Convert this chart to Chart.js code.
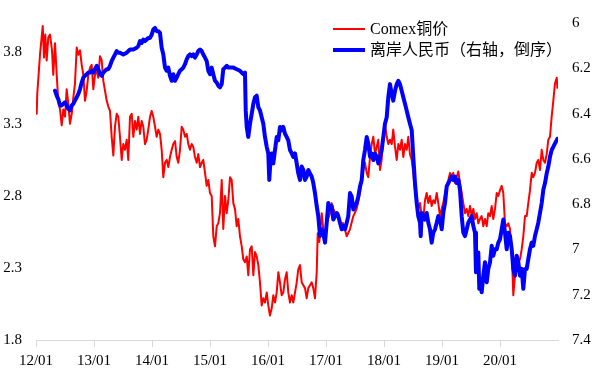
<!DOCTYPE html>
<html><head><meta charset="utf-8">
<script src="https://cdn.jsdelivr.net/npm/chart.js@4/dist/chart.umd.min.js"></script>
<style>html,body{margin:0;padding:0;background:#fff;} #c{display:block}</style>
</head><body>
<canvas id="c" width="601" height="371"></canvas>
<script>
const seriesNames = ['Comex铜价', '离岸人民币（右轴，倒序）'];
const xTickYears = [2012, 2013, 2014, 2015, 2016, 2017, 2018, 2019, 2020];
const xTickLabels = ['12/01', '13/01', '14/01', '15/01', '16/01', '17/01', '18/01', '19/01', '20/01'];
const leftTicks = [1.8, 2.3, 2.8, 3.3, 3.8];
const rightTicks = [6, 6.2, 6.4, 6.6, 6.8, 7, 7.2, 7.4];

// Comex copper (USD/lb), dates as decimal years
const copperT = [
2012.012,2012.022,2012.069,2012.116,2012.138,2012.160,2012.184,2012.212,2012.241,2012.276,
2012.298,2012.328,2012.357,2012.384,2012.414,2012.443,2012.471,2012.500,2012.529,2012.557,
2012.586,2012.616,2012.643,2012.672,2012.702,2012.729,2012.759,2012.788,2012.816,2012.845,
2012.874,2012.902,2012.931,2012.960,2012.988,2013.017,2013.047,2013.074,2013.103,2013.133,
2013.160,2013.190,2013.219,2013.247,2013.276,2013.305,2013.333,2013.362,2013.391,2013.419,
2013.448,2013.478,2013.505,2013.534,2013.564,2013.591,2013.621,2013.650,2013.678,2013.707,
2013.736,2013.764,2013.793,2013.822,2013.850,2013.879,2013.909,2013.936,2013.966,2013.995,
2014.022,2014.052,2014.081,2014.109,2014.138,2014.167,2014.195,2014.224,2014.253,2014.281,
2014.310,2014.340,2014.367,2014.397,2014.426,2014.453,2014.483,2014.512,2014.540,2014.569,
2014.598,2014.626,2014.655,2014.684,2014.712,2014.741,2014.771,2014.798,2014.828,2014.857,
2014.884,2014.914,2014.943,2014.971,2015.000,2015.029,2015.057,2015.086,2015.116,2015.143,
2015.172,2015.202,2015.229,2015.259,2015.288,2015.316,2015.345,2015.374,2015.402,2015.431,
2015.460,2015.488,2015.517,2015.547,2015.574,2015.603,2015.633,2015.660,2015.690,2015.719,
2015.747,2015.776,2015.805,2015.833,2015.862,2015.891,2015.919,2015.948,2015.978,2016.005,
2016.034,2016.064,2016.091,2016.121,2016.150,2016.178,2016.207,2016.236,2016.264,2016.293,
2016.322,2016.350,2016.379,2016.409,2016.436,2016.466,2016.495,2016.522,2016.552,2016.581,
2016.609,2016.638,2016.667,2016.695,2016.724,2016.753,2016.781,2016.810,2016.840,2016.857,
2016.884,2016.926,2016.953,2016.983,2017.012,2017.069,2017.098,2017.126,2017.184,2017.212,
2017.241,2017.298,2017.357,2017.414,2017.471,2017.529,2017.586,2017.643,2017.672,2017.702,
2017.729,2017.759,2017.788,2017.816,2017.845,2017.874,2017.902,2017.931,2017.960,2017.988,
2018.017,2018.047,2018.074,2018.103,2018.133,2018.160,2018.190,2018.219,2018.247,2018.276,
2018.305,2018.333,2018.362,2018.391,2018.419,2018.448,2018.478,2018.505,2018.534,2018.564,
2018.591,2018.621,2018.650,2018.678,2018.707,2018.736,2018.764,2018.793,2018.822,2018.850,
2018.879,2018.909,2018.936,2018.966,2018.995,2019.022,2019.052,2019.081,2019.109,2019.138,
2019.167,2019.195,2019.224,2019.253,2019.281,2019.310,2019.340,2019.367,2019.397,2019.426,
2019.453,2019.483,2019.512,2019.540,2019.569,2019.598,2019.626,2019.655,
2019.684,2019.712,2019.741,2019.771,2019.798,2019.828,2019.857,2019.884,2019.914,2019.943,
2019.971,2020.000,2020.029,2020.057,2020.086,2020.116,2020.143,2020.172,2020.202,2020.229,
2020.259,2020.288,2020.316,2020.345,2020.374,2020.402,2020.431,2020.460,2020.488,2020.517,
2020.547,2020.574,2020.603,2020.633,2020.660,2020.690,2020.719,2020.747,2020.776,2020.805,
2020.833,2020.862,2020.891,2020.919,2020.948,2020.978,2020.990
];
const copperV = [
3.37,3.51,3.78,3.98,3.76,3.92,3.74,3.90,3.92,3.81,
3.64,3.86,3.64,3.46,3.40,3.29,3.40,3.35,3.54,3.44,
3.30,3.37,3.48,3.58,3.83,3.78,3.81,3.71,3.64,3.46,
3.53,3.64,3.69,3.71,3.54,3.64,3.67,3.62,3.77,3.74,
3.60,3.53,3.46,3.42,3.39,3.21,3.08,3.28,3.37,3.35,
3.21,3.05,3.16,3.12,3.19,3.05,3.35,3.37,3.21,3.32,
3.26,3.35,3.23,3.32,3.28,3.16,3.19,3.26,3.35,3.39,
3.35,3.28,3.21,3.26,3.23,3.12,2.93,3.03,3.05,3.00,
3.07,3.12,3.16,3.18,3.07,3.03,3.12,3.28,3.26,3.21,
3.23,3.16,3.12,3.16,3.14,3.07,3.03,3.09,3.00,3.03,
3.05,2.96,2.87,2.91,2.82,2.80,2.52,2.45,2.59,2.61,
2.68,2.91,2.57,2.80,2.68,2.77,2.93,2.91,2.75,2.71,
2.59,2.64,2.52,2.45,2.36,2.34,2.38,2.25,2.43,2.45,
2.25,2.41,2.38,2.32,2.20,2.04,2.09,2.06,2.13,2.04,
1.97,2.02,2.11,2.06,2.13,2.27,2.20,2.11,2.13,2.22,
2.27,2.13,2.06,2.11,2.06,2.13,2.20,2.29,2.32,2.20,
2.18,2.16,2.09,2.16,2.18,2.20,2.16,2.09,2.27,2.54,
2.48,2.68,2.57,2.52,2.61,2.68,2.75,2.71,2.66,2.68,
2.61,2.61,2.52,2.57,2.66,2.71,2.82,2.98,3.03,2.96,
2.93,3.07,3.16,3.21,3.09,3.14,3.19,2.98,3.05,3.23,
3.30,3.21,3.16,3.19,3.16,3.26,3.14,3.05,3.16,3.12,
3.19,3.07,3.16,3.12,3.21,3.09,3.05,2.96,2.84,2.80,
2.71,2.75,2.66,2.64,2.77,2.82,2.75,2.80,2.73,2.77,
2.75,2.82,2.75,2.66,2.71,2.75,2.82,2.87,2.91,2.96,
2.93,2.96,2.89,2.93,2.97,2.89,2.82,2.75,2.68,2.71,
2.66,2.73,2.66,2.71,2.64,2.68,2.61,2.64,
2.66,2.59,2.64,2.59,2.68,2.66,2.73,2.64,2.71,2.82,
2.80,2.84,2.87,2.82,2.61,2.59,2.61,2.57,2.43,2.11,
2.25,2.29,2.34,2.36,2.43,2.52,2.66,2.66,2.75,2.84,
2.96,2.93,2.96,3.03,3.05,2.98,3.12,3.05,3.03,3.09,
3.19,3.21,3.35,3.46,3.58,3.62,3.55
];

// Offshore RMB (CNH per USD), right axis reversed
const cnhT = [
2012.328,2012.357,2012.384,2012.414,2012.443,2012.471,2012.500,2012.529,2012.557,2012.586,
2012.616,2012.643,2012.672,2012.702,2012.729,2012.759,2012.788,2012.816,2012.845,2012.874,
2012.902,2012.931,2012.960,2012.988,2013.017,2013.047,2013.074,2013.103,2013.133,2013.160,
2013.190,2013.219,2013.247,2013.276,2013.305,2013.333,2013.362,2013.391,2013.419,2013.448,
2013.505,2013.564,2013.621,2013.678,2013.736,2013.764,2013.793,2013.822,2013.850,2013.879,
2013.909,2013.936,2013.966,2013.995,2014.022,2014.052,2014.081,2014.109,2014.138,2014.167,
2014.195,2014.224,2014.253,2014.281,2014.310,2014.340,2014.367,2014.397,2014.426,2014.453,
2014.483,2014.512,2014.540,2014.569,2014.598,2014.626,2014.655,2014.684,2014.712,2014.741,
2014.771,2014.798,2014.828,2014.857,2014.884,2014.914,2014.943,2014.971,2015.000,2015.029,
2015.057,2015.086,2015.116,2015.143,2015.172,2015.202,2015.229,2015.259,2015.288,2015.316,
2015.345,2015.402,2015.460,2015.517,2015.547,2015.574,2015.603,2015.616,2015.633,2015.660,
2015.690,2015.719,2015.747,2015.776,2015.805,2015.833,2015.862,2015.891,2015.919,2015.948,
2015.978,2016.005,2016.022,2016.047,2016.064,2016.091,2016.121,2016.150,2016.178,2016.207,
2016.236,2016.264,2016.293,2016.322,2016.350,2016.379,2016.409,2016.436,2016.466,2016.495,
2016.522,2016.552,2016.581,2016.609,2016.638,2016.667,2016.695,2016.724,2016.753,2016.781,
2016.810,2016.840,2016.867,2016.897,2016.926,2016.953,2016.983,2017.012,2017.040,2017.069,
2017.098,2017.126,2017.155,2017.184,2017.212,2017.241,2017.271,2017.298,2017.328,2017.357,
2017.384,2017.414,2017.443,2017.471,2017.500,2017.529,2017.557,2017.586,2017.616,2017.643,
2017.672,2017.702,2017.729,2017.759,2017.788,2017.816,2017.845,2017.874,2017.902,2017.931,
2017.960,2017.988,2018.017,2018.047,2018.074,2018.103,2018.133,2018.160,2018.190,2018.219,
2018.247,2018.276,2018.305,2018.333,2018.362,2018.391,2018.419,2018.448,2018.478,2018.505,
2018.534,2018.564,2018.591,2018.621,2018.633,2018.650,2018.678,2018.707,2018.736,2018.764,
2018.793,2018.822,2018.850,2018.879,2018.909,2018.936,2018.966,2018.995,2019.022,2019.052,
2019.081,2019.109,2019.138,2019.167,2019.195,2019.224,2019.253,2019.281,2019.310,2019.340,
2019.367,2019.397,2019.426,2019.453,2019.483,2019.512,2019.540,2019.569,2019.586,2019.609,
2019.626,2019.643,2019.655,2019.684,2019.712,2019.741,2019.771,2019.798,2019.828,2019.857,
2019.884,2019.914,2019.943,2019.971,2020.000,2020.029,2020.057,2020.086,2020.116,2020.143,
2020.172,2020.202,2020.229,2020.259,2020.288,2020.316,2020.345,2020.374,2020.402,2020.431,
2020.460,2020.488,2020.517,2020.547,2020.574,2020.603,2020.633,2020.660,2020.690,2020.719,
2020.747,2020.776,2020.805,2020.833,2020.862,2020.891,2020.919,2020.948,2020.978,2020.990
];
const cnhV = [
6.299,6.321,6.336,6.364,6.364,6.357,6.350,6.364,6.379,6.386,
6.364,6.357,6.343,6.328,6.314,6.292,6.263,6.241,6.233,6.226,
6.219,6.219,6.211,6.219,6.204,6.189,6.204,6.226,6.233,6.219,
6.211,6.204,6.204,6.189,6.168,6.153,6.139,6.124,6.131,6.131,
6.139,6.131,6.117,6.117,6.109,6.102,6.080,6.088,6.073,6.080,
6.073,6.066,6.066,6.051,6.029,6.022,6.036,6.036,6.044,6.109,
6.139,6.197,6.211,6.197,6.233,6.255,6.226,6.255,6.241,6.226,
6.211,6.204,6.197,6.182,6.161,6.146,6.139,6.146,6.139,6.153,
6.139,6.124,6.117,6.124,6.139,6.153,6.168,6.211,6.226,6.197,
6.226,6.255,6.263,6.277,6.284,6.270,6.204,6.197,6.189,6.197,
6.197,6.197,6.204,6.211,6.219,6.226,6.219,6.386,6.459,6.503,
6.445,6.401,6.357,6.328,6.321,6.372,6.386,6.416,6.445,6.503,
6.547,6.576,6.693,6.591,6.576,6.620,6.561,6.503,6.518,6.459,
6.474,6.459,6.489,6.503,6.518,6.561,6.576,6.591,6.576,6.620,
6.664,6.693,6.634,6.649,6.693,6.678,6.649,6.664,6.678,6.707,
6.751,6.809,6.853,6.941,6.911,6.926,6.970,6.882,6.795,6.824,
6.809,6.868,6.853,6.839,6.853,6.882,6.911,6.897,6.911,6.882,
6.853,6.751,6.766,6.824,6.809,6.795,6.766,6.722,6.693,6.605,
6.561,6.503,6.532,6.591,6.576,6.605,6.576,6.591,6.620,6.591,
6.561,6.503,6.445,6.416,6.328,6.270,6.314,6.343,6.299,6.270,
6.255,6.270,6.299,6.328,6.357,6.386,6.416,6.445,6.474,6.591,
6.707,6.795,6.853,6.882,6.941,6.839,6.853,6.868,6.839,6.882,
6.911,6.970,6.926,6.911,6.882,6.853,6.868,6.911,6.839,6.795,
6.722,6.707,6.693,6.678,6.693,6.678,6.707,6.693,6.736,6.853,
6.926,6.941,6.911,6.882,6.868,6.853,6.897,6.926,7.101,7.057,
7.014,7.174,7.130,7.189,7.116,7.057,7.145,7.086,7.057,6.984,
7.028,6.999,6.999,6.970,6.955,6.911,6.868,6.926,6.999,6.926,
6.941,6.999,7.086,7.116,7.028,7.057,7.116,7.086,7.174,7.086,
7.086,7.043,6.999,6.970,6.984,6.941,6.911,6.882,6.839,6.795,
6.736,6.707,6.664,6.634,6.591,6.561,6.547,6.532,6.518,6.511
];

const toPts = (t, v) => t.slice(0, Math.min(t.length, v.length)).map((x, i) => ({ x: x, y: v[i] }));
const SERIF = "'Liberation Serif', 'Times New Roman', serif";

const insideLegend = {
  id: 'insideLegend',
  afterDraw(chart) {
    const ctx = chart.ctx;
    const rows = [29, 50];
    chart.data.datasets.forEach((ds, i) => {
      const y = rows[i];
      ctx.save();
      ctx.strokeStyle = ds.borderColor;
      ctx.lineWidth = ds.borderWidth;
      ctx.beginPath(); ctx.moveTo(333, y); ctx.lineTo(365, y); ctx.stroke();
      ctx.fillStyle = '#000';
      ctx.font = "16px 'Liberation Serif', 'Noto Sans CJK SC', serif";
      ctx.textBaseline = 'middle';
      ctx.textAlign = 'left';
      ctx.fillText(ds.label, 370, y + 1);
      ctx.restore();
    });
  }
};

new Chart(document.getElementById('c'), {
  type: 'line',
  data: {
    datasets: [
      { label: seriesNames[0], data: toPts(copperT, copperV), borderColor: '#FF0000', borderWidth: 2, yAxisID: 'yL', order: 1 },
      { label: seriesNames[1], data: toPts(cnhT, cnhV), borderColor: '#0000FF', borderWidth: 4, yAxisID: 'yR', order: 0 }
    ]
  },
  options: {
    responsive: false,
    animation: false,
    devicePixelRatio: 1,
    layout: { padding: { top: 20, left: 0, right: 0, bottom: 0 } },
    elements: { point: { radius: 0 }, line: { tension: 0, borderJoinStyle: 'round', borderCapStyle: 'round' } },
    plugins: { legend: { display: false }, tooltip: { enabled: false } },
    scales: {
      x: {
        type: 'linear', min: 2012, max: 2021,
        afterBuildTicks: s => { s.ticks = xTickYears.map(v => ({ value: v })); },
        afterFit: s => { s.height = 31; },
        grid: { drawOnChartArea: false, drawTicks: true, tickLength: 7, color: '#d9d9d9' },
        border: { display: true, color: '#d9d9d9', width: 1 },
        ticks: { font: { family: SERIF, size: 15 }, color: '#000', padding: 5, maxRotation: 0, autoSkip: false,
                 callback: (v, i) => xTickLabels[i] }
      },
      yL: {
        type: 'linear', position: 'left', min: 1.8, max: 4.0,
        afterBuildTicks: s => { s.ticks = leftTicks.map(v => ({ value: v })); },
        afterFit: s => { s.width = 36; },
        grid: { display: false, drawTicks: false },
        border: { display: false },
        ticks: { font: { family: SERIF, size: 15 }, color: '#000', padding: 14, callback: v => v.toFixed(1) }
      },
      yR: {
        type: 'linear', position: 'right', reverse: true, min: 6, max: 7.4,
        afterBuildTicks: s => { s.ticks = rightTicks.map(v => ({ value: v })); },
        afterFit: s => { s.width = 43; },
        grid: { display: false, drawTicks: false },
        border: { display: false },
        ticks: { font: { family: SERIF, size: 15 }, color: '#000', padding: 14, callback: v => String(+v.toFixed(1)) }
      }
    }
  },
  plugins: [insideLegend]
});
</script>
</body></html>
